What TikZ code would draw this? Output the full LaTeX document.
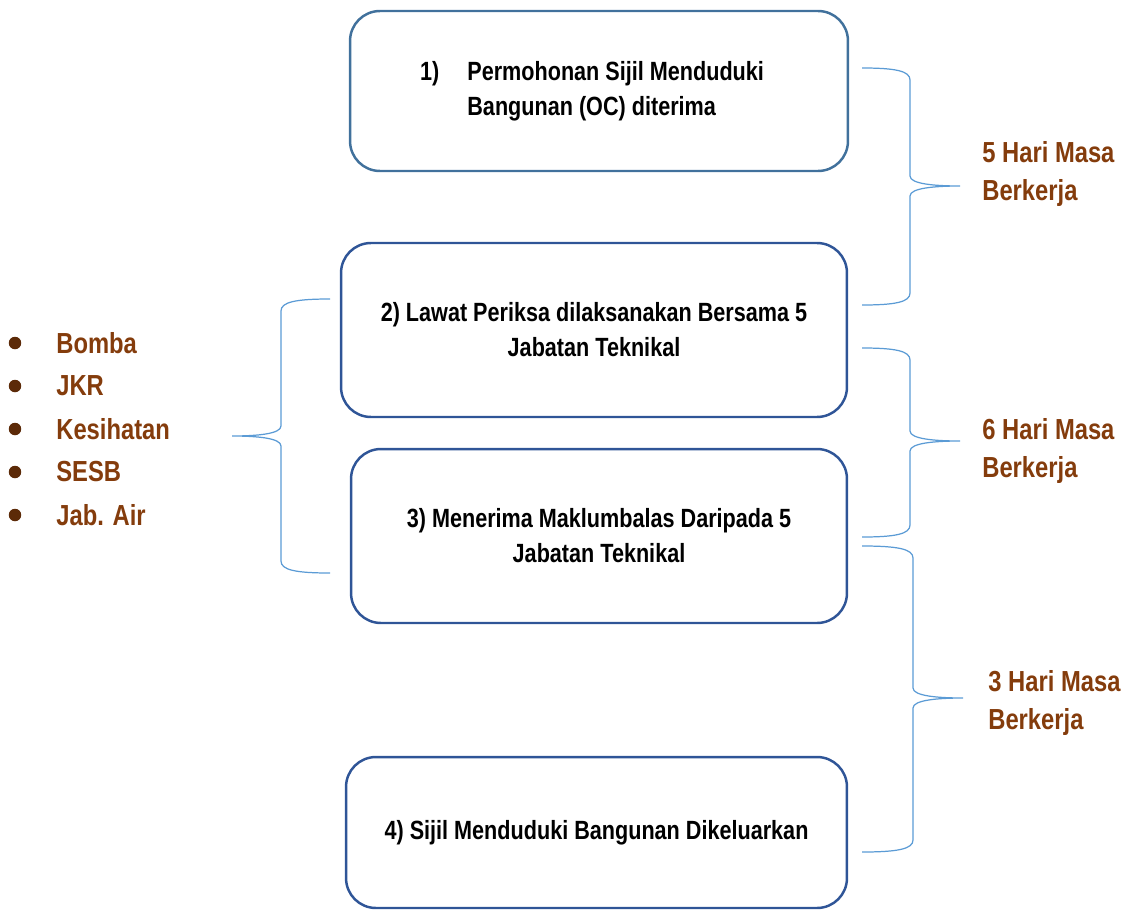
\documentclass[tikz,border=0pt]{standalone}
\usepackage{fontspec}
\setmainfont{Liberation Sans}[FakeStretch=0.82]
\usetikzlibrary{positioning}
\definecolor{boxblue}{HTML}{2F5597}
\definecolor{firstblue}{HTML}{41719C}
\definecolor{braceblue}{HTML}{5B9BD5}
\definecolor{daybrown}{HTML}{843C0C}
\tikzset{
  stepbox/.style={draw=boxblue, line width=1.4pt, rounded corners=17pt,
    align=center, inner sep=0pt, font=\fontsize{15}{20}\selectfont\bfseries},
  days/.style={text=daybrown, align=left, anchor=west, inner sep=0pt,
    font=\fontsize{16.5}{21.5}\selectfont\bfseries},
  dept/.style={text=daybrown, anchor=west, inner sep=0pt,
    font=\fontsize{16.5}{20}\selectfont\bfseries},
  dot/.style={circle, fill=daybrown!70!black, inner sep=0pt, minimum size=0.25cm},
  brc/.style={draw=braceblue, line width=0.7pt},
}
% end x, stem x, tip x, top y, tip y, bottom y
\newcommand{\daybrace}[6]{%
  \draw[brc] (#1,#4) .. controls ({#2+(#1-#2)*0.3},#4) and (#2,{#4+3}) .. (#2,{#4+12})
    -- (#2,{#5-10}) .. controls (#2,{#5-2}) and ({#3+(#2-#3)*0.5},#5) .. (#3,#5)
    .. controls ({#3+(#2-#3)*0.5},#5) and (#2,{#5+2}) .. (#2,{#5+10})
    -- (#2,{#6-12}) .. controls (#2,{#6-3}) and ({#2+(#1-#2)*0.3},#6) .. (#1,#6);}
\begin{document}
\begin{tikzpicture}[x=0.02cm, y=-0.02cm]
\useasboundingbox (0,0) rectangle (1125,909);
% steps
\node[stepbox, draw=firstblue, minimum width=9.96cm, minimum height=3.2cm] (s1) at (599,91)
  {\begin{tabular}{@{}l@{\hspace{16pt}}l@{}}1) & Permohonan Sijil Menduduki\\ & Bangunan (OC) diterima\end{tabular}\rule{0.28cm}{0pt}};
\node[stepbox, minimum width=10.12cm, minimum height=3.48cm] (s2) at (594,330)
  {2) Lawat Periksa dilaksanakan Bersama 5\\Jabatan Teknikal};
\node[stepbox, minimum width=9.92cm, minimum height=3.48cm] (s3) at (599,536)
  {3) Menerima Maklumbalas Daripada 5\\Jabatan Teknikal};
\node[stepbox, minimum width=10.02cm, minimum height=3.02cm] (s4) at (596.5,832.5)
  {4) Sijil Menduduki Bangunan Dikeluarkan};
% working days
\daybrace{862}{910}{960}{68}{186}{305}
\daybrace{862}{910}{960}{348}{441}{537}
\daybrace{862}{913}{963}{546}{698}{852}
\node[days] (d1) at (982,174) {5 Hari Masa\\Berkerja};
\node[days] (d2) at (982,451) {6 Hari Masa\\Berkerja};
\node[days] (d3) at (988,703) {3 Hari Masa\\Berkerja};
% technical departments
\daybrace{330}{281}{232}{299}{436}{573}
\foreach \name [count=\i] in {Bomba,JKR,Kesihatan,SESB,{Jab. Air}} {
  \node[dept] (j\i) at (56,{300+43*\i}) {\name};
  \node[dot] (b\i) at (15,{300+43*\i}) {};
}
\end{tikzpicture}
\end{document}
